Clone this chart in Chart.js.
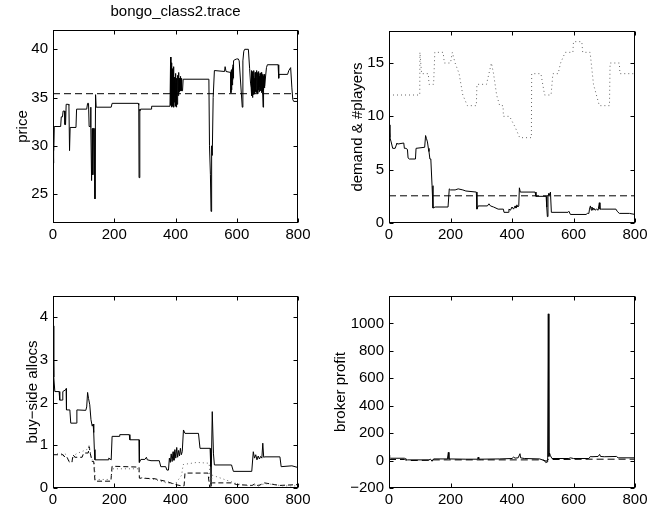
<!DOCTYPE html>
<html>
<head>
<meta charset="utf-8">
<script src="https://cdn.jsdelivr.net/npm/chart.js@4.4.1/dist/chart.umd.min.js"></script>
<style>
  html, body { margin: 0; padding: 0; background: #fff; }
  body { width: 667px; height: 515px; position: relative; overflow: hidden; }
  canvas { position: absolute; }
</style>
</head>
<body>
<canvas id="tl" width="333" height="257" style="left:0;top:0"></canvas>
<canvas id="tr" width="334" height="257" style="left:333px;top:0"></canvas>
<canvas id="bl" width="333" height="258" style="left:0;top:257px"></canvas>
<canvas id="br" width="334" height="258" style="left:333px;top:257px"></canvas>
<script>
// ---------- tick labels ----------
const xTicks = [0, 200, 400, 600, 800];
const priceTicks = [25, 30, 35, 40];
const demandTicks = [0, 5, 10, 15];
const allocTicks = [0, 1, 2, 3, 4];
const profitTicks = [-200, 0, 200, 400, 600, 800, 1000];

// ---------- price (top left) ----------
const priceX = [
  0,1,2,3,4,25,27,31,33,38,
  39,41,43,50,52,54,56,75,77,110,
  113,116,118,121,123,124,126,128,130,132,
  134,137,139,141,190,193,278,280,281,283,
  284,286,320,322,382,384,385,386,387,388,
  389,390,391,392,393,394,395,396,397,398,
  399,400,401,402,403,404,405,406,407,408,
  409,410,411,412,413,414,415,416,417,418,
  419,420,421,423,425,509,511,514,516,518,
  520,523,527,560,562,565,580,581,582,583,
  584,585,586,587,588,589,590,592,600,605,
  608,618,620,623,626,638,642,645,647,648,
  649,650,651,652,653,654,655,656,657,658,
  659,660,661,662,663,664,665,666,667,668,
  669,670,671,672,673,674,675,676,677,678,
  679,680,681,682,683,684,685,686,687,688,
  689,690,692,697,700,735,737,738,766,770,
  776,780,783,786,800];
const priceY = [
  31.6,28.2,31.9,29.5,32,32,33,33,33.6,33.6,
  32.2,32.2,34.3,34.3,34.2,29.5,31.9,31.9,33.8,33.8,
  34.4,34.4,32,32,34,31.9,26.4,31.8,27,31.8,
  31.8,24.5,35.3,34,34,34.4,34.4,34.2,26.7,33.8,
  33.6,33.8,33.8,34.1,34.1,39.2,34.2,38.6,34,38.3,
  34.5,38,34.1,37.6,34.3,38.2,34,37.1,34.5,36.8,
  34.2,37.5,34.1,36.5,34,37,34.3,36.2,35,37.3,
  35.2,37.6,35.5,37,35.6,36.8,35.8,37.2,35.7,36.9,
  35.8,37,35.7,35.7,36.9,36.9,30,27,23.2,30,
  29,35,37.8,37.7,38.2,37.7,37.6,35.5,37.8,35.8,
  37.9,36.3,38.1,36.8,38.4,37,38.8,38.9,39,39,
  38.8,34,38.8,39.8,40,40,38,36.5,36,37.8,
  35.2,37.5,35,37.7,35.5,37.2,35.3,37.8,35.8,37,
  35.4,37.6,35.6,37.3,35.9,37.8,35.5,37.1,36,37.6,
  35.4,37.4,35.8,37.7,35.6,37.2,36.1,37.5,35.7,37.3,
  35.9,37.6,35.5,37,36,37.4,35.6,34,37.2,35.8,
  37.4,36,36.2,38.1,38.4,38.4,37,37.4,37.4,37.8,
  38.1,36,34.8,34.6,34.6];
const priceRef = 35.4;

// ---------- demand & #players (top right) ----------
const demandX = [
  0,3,7,12,20,26,28,48,50,55,
  60,62,66,86,88,90,116,119,122,125,
  128,130,133,136,140,143,150,192,196,200,
  215,225,240,250,284,286,290,320,325,330,
  340,355,372,374,388,390,395,400,405,410,
  413,416,419,422,424,427,475,478,511,513,
  515,517,520,523,525,528,530,582,585,590,
  641,645,650,652,655,658,660,663,666,670,
  675,680,684,686,690,738,742,749,782,800];
const demandY = [
  9.2,8.0,7.6,7.0,7.0,7.5,7.4,7.5,7.0,7.0,
  6.9,6.1,6.0,6.0,7.0,7.0,7.1,8.2,7.9,7.6,
  7.0,6.7,6.0,6.0,3.5,1.4,1.5,1.5,3.2,3.1,
  3.1,3.2,3.1,3.0,2.9,1.3,1.6,1.6,1.8,1.6,
  1.5,1.3,1.3,1.0,1.0,1.3,1.2,1.5,1.3,1.6,
  1.4,1.7,1.5,1.6,3.3,2.9,2.9,2.5,2.5,1.5,
  0.6,2.5,2.8,2.6,2.9,1.0,1.0,1.0,1.1,0.8,
  0.8,0.9,0.9,1.3,1.6,1.2,1.5,1.2,1.4,1.2,
  1.3,1.2,1.9,1.3,1.3,1.3,1.1,0.9,0.9,0.8];
const playersX = [
  0,100,100.5,106,128,130,145,149,176,180,
  200,206,215,228,240,255,284,286,317,333,
  340,350,360,371,372,392,410,425,463,464,
  494,500,506,527,533,550,558,573,598,600,
  627,630,654,665,684,717,719,749,751,800];
const playersY = [
  12,12,16,14,14,13,13,16,16,15,
  15,16,15,14,12,11,11,13,13,15,
  14,12,11,11,10,10,9,8,8,14,
  14,13,12,12,14,14,15,16,16,17,
  17,16,16,13,11,11,15,15,14,14];
const demandRef = 2.55;

// ---------- buy-side allocs (bottom left) ----------
const allocX = [
  0,2,3,6,20,22,30,32,41,43,
  44,55,58,76,78,107,110,113,116,120,
  124,128,131,133,135,137,140,180,182,190,
  193,216,218,249,251,281,282,287,300,305,
  308,320,347,352,368,372,377,380,383,386,
  389,392,395,398,401,404,407,410,413,416,
  419,422,426,431,475,480,513,515,516,520,
  524,527,583,589,649,654,658,662,666,670,
  674,678,682,685,688,692,741,745,780,800];
const allocY = [
  3.8,3.0,2.6,2.26,2.26,2.06,2.06,2.26,2.3,2.33,
  1.83,1.83,1.52,1.52,1.83,1.82,1.9,2.24,2.1,1.95,
  1.6,1.45,1.5,1.3,0.9,0.66,0.66,0.66,0.7,0.66,
  1.21,1.21,1.25,1.25,1.13,1.13,0.6,0.67,0.67,0.72,
  0.66,0.64,0.64,0.5,0.5,0.42,0.42,0.7,0.6,0.8,
  0.62,0.85,0.65,0.9,0.7,0.95,0.72,0.88,0.75,0.93,
  0.78,0.85,1.36,1.28,1.28,0.93,0.93,0.5,0.04,1.79,
  0.8,0.54,0.54,0.39,0.39,0.85,0.7,0.78,0.66,0.75,
  0.68,0.74,0.7,1.05,0.72,0.73,0.73,0.5,0.52,0.48];
const allocDashX = [
  0,33,36,45,52,55,62,65,72,75,
  95,100,115,118,122,128,133,137,189,193,
  281,282,330,372,400,420,428,431,506,512,
  516,520,583,600,650,660,670,690,740,800];
const allocDashY = [
  0.78,0.78,0.74,0.74,0.62,0.6,0.6,0.78,0.72,0.72,
  0.72,0.82,0.82,0.97,0.8,0.62,0.62,0.16,0.16,0.51,
  0.49,0.23,0.22,0.15,0.08,0.05,0.05,0.35,0.35,0,
  0.12,0.12,0.12,0.08,0.06,0.1,0.05,0.12,0.06,0.08];
const allocDotX = [
  0,40,50,60,75,110,118,125,135,138,
  190,193,280,283,330,370,400,420,425,470,
  510,514,520,560,600,640,700,750,800];
const allocDotY = [
  0.8,0.8,0.65,0.6,0.8,0.9,1.0,0.7,0.6,0.2,
  0.2,0.45,0.45,0.25,0.2,0.12,0.1,0.3,0.55,0.6,
  0.58,0,0.3,0.2,0.1,0.05,0.1,0.05,0.05];

// ---------- broker profit (bottom right) ----------
const profitX = [
  0,2,5,50,55,60,130,135,140,145,
  190,193,195,250,288,290,292,360,400,405,
  410,420,426,428,440,490,505,510,514,516,
  518,520,522,525,530,585,590,600,650,655,
  660,680,685,688,700,740,745,800];
const profitY = [
  40,20,17,17,12,5,5,10,-5,12,
  12,60,12,10,10,25,10,12,15,25,
  18,20,50,20,15,12,0,-15,-10,20,
  1070,30,55,35,15,15,20,15,15,30,
  28,30,45,30,28,30,20,20];
const profitDashX = [0,50,60,130,140,200,300,400,500,512,516,560,650,700,800];
const profitDashY = [8,8,0,2,5,5,5,5,5,-5,8,8,10,10,10];

// ---------- drawing ----------
const FONT = "'Liberation Sans', Arial, Helvetica, sans-serif";
const pts = (xs, ys) => xs.map((x, i) => ({ x: x, y: ys[i] }));
const flat = (v) => [{ x: xTicks[0], y: v }, { x: xTicks[xTicks.length - 1], y: v }];
const fmt = (v) => (v < 0 ? '\u2212' + String(-v) : String(v));

const framePlugin = {
  id: 'frame',
  afterDatasetsDraw(chart) {
    const { ctx, chartArea: a, scales } = chart;
    const xs = scales.x, ys = scales.y;
    ctx.save();
    ctx.strokeStyle = '#000';
    ctx.lineWidth = 1;
    const L = Math.round(a.left) + 0.5, R = Math.round(a.right) - 0.5;
    const T = Math.round(a.top) + 0.5, B = Math.round(a.bottom) - 0.5;
    ctx.strokeRect(L, T, R - L, B - T);
    const tl = 4;
    ctx.beginPath();
    xs.ticks.forEach(t => {
      const p = Math.round(xs.getPixelForValue(t.value)) + 0.5;
      ctx.moveTo(p, B); ctx.lineTo(p, B - tl);
      ctx.moveTo(p, T); ctx.lineTo(p, T + tl);
    });
    ys.ticks.forEach(t => {
      const p = Math.round(ys.getPixelForValue(t.value)) + 0.5;
      ctx.moveTo(L, p); ctx.lineTo(L + tl, p);
      ctx.moveTo(R, p); ctx.lineTo(R - tl, p);
    });
    ctx.stroke();
    ctx.restore();
  }
};

function panel(id, o) {
  const tickFont = { family: FONT, size: 15 };
  new Chart(document.getElementById(id), {
    type: 'line',
    data: {
      datasets: o.series.map(s => ({
        data: s.data,
        borderColor: s.color || '#000',
        borderWidth: 1,
        borderDash: s.dash || [],
        pointRadius: 0,
        tension: 0,
        fill: false
      }))
    },
    options: {
      responsive: false,
      animation: false,
      devicePixelRatio: 1,
      layout: { padding: o.pad },
      plugins: {
        legend: { display: false },
        tooltip: { enabled: false },
        title: o.title ? {
          display: true,
          text: o.title,
          fullSize: false,
          color: '#000',
          font: { family: FONT, size: 15, weight: 'normal', lineHeight: 1.2 },
          padding: { top: 3.3, bottom: 8.7 }
        } : { display: false }
      },
      scales: {
        x: {
          type: 'linear',
          min: xTicks[0],
          max: xTicks[xTicks.length - 1],
          afterBuildTicks: s => { s.ticks = xTicks.map(v => ({ value: v })); },
          afterFit: s => { s.height = o.xH; },
          grid: { display: false, drawTicks: false },
          border: { display: false },
          ticks: { color: '#000', font: tickFont, padding: 3, autoSkip: false, maxRotation: 0, callback: fmt }
        },
        y: {
          type: 'linear',
          min: o.yMin,
          max: o.yMax,
          afterBuildTicks: s => { s.ticks = o.yTicks.map(v => ({ value: v })); },
          afterFit: s => { s.width = o.yW; },
          grid: { display: false, drawTicks: false },
          border: { display: false },
          ticks: { color: '#000', font: tickFont, padding: 5, autoSkip: false, callback: fmt },
          title: {
            display: true,
            text: o.yTitle,
            color: '#000',
            font: { family: FONT, size: 15, lineHeight: 1.2 },
            padding: { top: o.yTitlePad, bottom: 0 }
          }
        }
      }
    },
    plugins: [framePlugin]
  });
}

panel('tl', {
  title: 'bongo_class2.trace',
  yTitle: 'price', yMin: 22, yMax: 42, yTicks: priceTicks,
  pad: { left: 0, right: 35, top: 0, bottom: 0 }, yW: 53, xH: 34, yTitlePad: 13.5,
  series: [
    { data: pts(priceX, priceY) },
    { data: flat(priceRef), dash: [7, 4] }
  ]
});

panel('tr', {
  yTitle: 'demand & #players', yMin: 0, yMax: 18, yTicks: demandTicks,
  pad: { left: 0, right: 32, top: 31, bottom: 0 }, yW: 56, xH: 34, yTitlePad: 16,
  series: [
    { data: pts(playersX, playersY), dash: [1, 3], color: '#666' },
    { data: pts(demandX, demandY) },
    { data: flat(demandRef), dash: [7, 4] }
  ]
});

panel('bl', {
  yTitle: 'buy\u2212side allocs', yMin: 0, yMax: 4.5, yTicks: allocTicks,
  pad: { left: 0, right: 35, top: 39, bottom: 0 }, yW: 53, xH: 27, yTitlePad: 23.5,
  series: [
    { data: pts(allocDotX, allocDotY), dash: [1, 3], color: '#666' },
    { data: pts(allocDashX, allocDashY), dash: [5, 3] },
    { data: pts(allocX, allocY) }
  ]
});

panel('br', {
  yTitle: 'broker profit', yMin: -200, yMax: 1200, yTicks: profitTicks,
  pad: { left: 0, right: 32, top: 39, bottom: 0 }, yW: 56, xH: 27, yTitlePad: -1.5,
  series: [
    { data: pts(profitDashX, profitDashY), dash: [7, 4] },
    { data: pts(profitX, profitY) }
  ]
});
</script>
</body>
</html>
